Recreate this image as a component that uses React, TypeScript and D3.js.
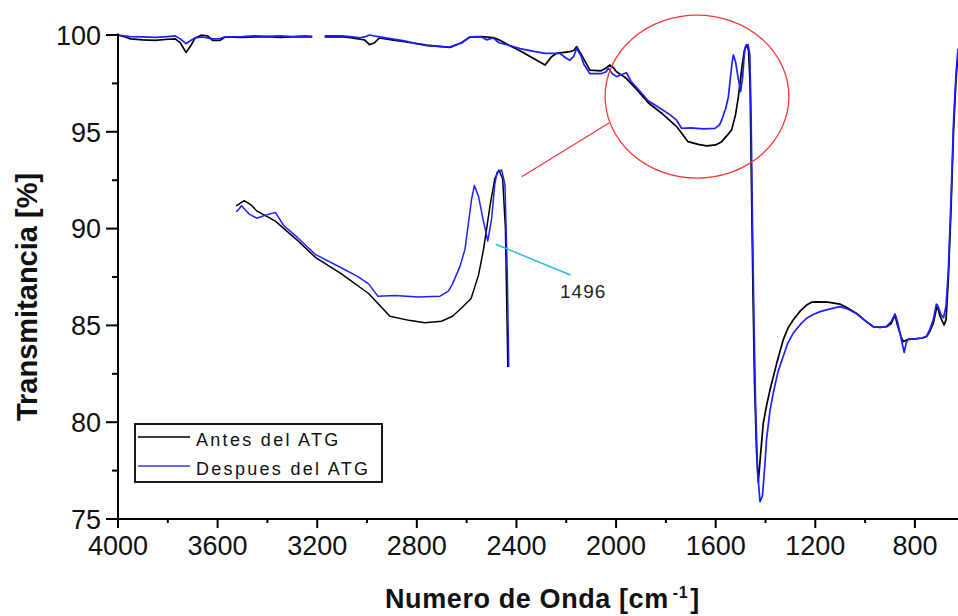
import React from 'react';
import * as d3 from 'd3';

const W = 958;
const H = 616;

const xDomain: [number, number] = [4000, 627];
const yDomain: [number, number] = [75, 100];
const xMajorTicks = [4000, 3600, 3200, 2800, 2400, 2000, 1600, 1200, 800];
const xMinorTicks = [3800, 3400, 3000, 2600, 2200, 1800, 1400, 1000];
const yMajorTicks = [75, 80, 85, 90, 95, 100];
const yMinorTicks = [77.5, 82.5, 87.5, 92.5, 97.5];

const seriesNames = ['Antes del ATG', 'Despues del ATG'];
const seriesColors = ['#000000', '#1f1fff'];

// [wavenumber, transmittance]
const antes: [number, number][] = [
  [4000, 100], [3970, 99.9], [3950, 99.8], [3900, 99.75], [3850, 99.72], [3800, 99.78],
  [3770, 99.8], [3750, 99.6], [3727, 99.1], [3710, 99.4], [3690, 99.85], [3664, 100],
  [3640, 99.95], [3620, 99.72], [3590, 99.72], [3570, 99.9], [3500, 99.88], [3450, 99.9],
  [3400, 99.92], [3350, 99.88], [3300, 99.9], [3250, 99.92], [3220, 99.9], [3210, NaN],
  [3170, 99.9], [3100, 99.92], [3060, 99.85], [3028, 99.78], [3010, 99.75], [2990, 99.5],
  [2970, 99.6], [2950, 99.85], [2900, 99.75], [2850, 99.65], [2800, 99.55], [2760, 99.48],
  [2700, 99.4], [2667, 99.36], [2620, 99.6], [2587, 99.9], [2540, 99.92], [2494, 99.87],
  [2470, 99.75], [2439, 99.53], [2386, 99.19], [2333, 98.8], [2285, 98.45], [2259, 98.88],
  [2239, 99.05], [2185, 99.14], [2170, 99.2], [2158, 99.4], [2140, 99.0], [2105, 98.19],
  [2060, 98.15], [2040, 98.3], [2025, 98.45], [2010, 98.3], [1998, 98.1], [1958, 97.75],
  [1911, 97.1], [1871, 96.5], [1817, 95.96], [1757, 95.27], [1711, 94.49], [1670, 94.35],
  [1636, 94.27], [1600, 94.32], [1576, 94.49], [1555, 94.8], [1536, 95.1], [1520, 95.9],
  [1509, 96.8], [1495, 98.3], [1485, 99.2], [1476, 99.5], [1468, 99.2], [1462, 97.5],
  [1456, 92], [1450, 86.5], [1444, 82], [1436, 78.5], [1429, 76.9], [1420, 78.3],
  [1409, 79.94], [1395, 80.9], [1382, 81.66], [1355, 83.04], [1329, 84.25], [1310, 84.85],
  [1289, 85.28], [1260, 85.75], [1235, 86.05], [1215, 86.2], [1195, 86.22], [1150, 86.2],
  [1101, 86.1], [1070, 85.9], [1034, 85.62], [1000, 85.25], [967, 84.93], [940, 84.9],
  [914, 84.93], [895, 85.1], [880, 85.54], [870, 85.0], [855, 84.4], [847, 84.16],
  [840, 84.2], [827, 84.28], [800, 84.3], [770, 84.35], [753, 84.42], [740, 84.7],
  [726, 85.11], [718, 85.6], [710, 86.05], [700, 85.5], [683, 85.02], [675, 85.3],
  [666, 87.35], [655, 91], [645, 95], [635, 97.7], [627, 99],
];

const despues: [number, number][] = [
  [4000, 100], [3970, 99.95], [3950, 99.92], [3900, 99.9], [3850, 99.88], [3800, 99.92],
  [3770, 99.95], [3750, 99.8], [3727, 99.55], [3710, 99.7], [3690, 99.85], [3664, 99.9],
  [3640, 99.85], [3620, 99.8], [3590, 99.82], [3570, 99.9], [3500, 99.92], [3450, 99.95],
  [3400, 99.93], [3350, 99.95], [3300, 99.92], [3250, 99.95], [3220, 99.93], [3210, NaN],
  [3170, 99.95], [3100, 99.95], [3060, 99.9], [3028, 99.85], [3010, 99.9], [2990, 100],
  [2970, 99.95], [2950, 99.9], [2900, 99.8], [2850, 99.7], [2800, 99.55], [2760, 99.45],
  [2700, 99.4], [2667, 99.38], [2620, 99.6], [2587, 99.9], [2540, 99.9], [2520, 99.75],
  [2494, 99.85], [2470, 99.6], [2439, 99.5], [2386, 99.3], [2330, 99.15], [2285, 99.05],
  [2239, 99.05], [2226, 99.05], [2200, 98.8], [2185, 98.7], [2170, 98.9], [2158, 99.31],
  [2140, 98.9], [2130, 98.5], [2105, 98.0], [2060, 98.0], [2040, 98.1], [2031, 98.28],
  [2015, 98.0], [1998, 97.85], [1980, 97.95], [1958, 98.05], [1940, 97.6], [1911, 97.2],
  [1871, 96.6], [1817, 96.16], [1780, 95.85], [1757, 95.6], [1737, 95.18], [1700, 95.2],
  [1650, 95.15], [1603, 95.18], [1585, 95.35], [1576, 95.6], [1560, 96.2], [1549, 96.8],
  [1535, 98.5], [1529, 98.97], [1520, 98.6], [1510, 97.8], [1500, 97.07], [1492, 97.8],
  [1485, 99.0], [1480, 99.43], [1470, 99.5], [1463, 99.0], [1458, 96], [1452, 90],
  [1446, 85], [1440, 81], [1432, 77.5], [1422, 75.9], [1412, 76.2], [1401, 78.05],
  [1396, 79.1], [1382, 80.6], [1369, 81.49], [1350, 82.6], [1329, 83.39], [1310, 84.1],
  [1289, 84.59], [1260, 85.05], [1235, 85.37], [1210, 85.55], [1181, 85.71], [1140, 85.85],
  [1101, 85.97], [1070, 85.85], [1034, 85.6], [1000, 85.25], [967, 84.93], [940, 84.9],
  [914, 84.95], [895, 85.2], [880, 85.6], [870, 85.2], [855, 84.3], [843, 83.6],
  [835, 84.1], [827, 84.28], [800, 84.3], [770, 84.35], [753, 84.45], [740, 84.8],
  [726, 85.3], [714, 86.1], [705, 85.9], [695, 85.54], [685, 85.4], [675, 86],
  [666, 87.8], [655, 91.5], [645, 95.5], [635, 98], [627, 99.3],
];

// inset (magnified view of the circled region), in data units
const insetWnDomain: [number, number] = [2045, 1478];
const insetTDomain: [number, number] = [98.2, 94.27];

// annotations, in data units
const circleCenter: [number, number] = [1675, 96.82];
const circleRadii: [number, number] = [369, 4.21];
const redLine: [number, number][] = [[2379, 92.68], [2027, 95.47]];
const cyanLine: [number, number][] = [[2483, 89.19], [2183, 87.6]];
const peakLabel = { text: '1496', wn: 2225, t: 86.4 };

const FONT = "'Liberation Sans', Arial, Helvetica, sans-serif";

export default function App() {
  const x = d3.scaleLinear().domain(xDomain).range([118, 958]);
  const y = d3.scaleLinear().domain(yDomain).range([519, 35]);
  const xi = d3.scaleLinear().domain(insetWnDomain).range([235, 498]);
  const yi = d3.scaleLinear().domain(insetTDomain).range([208, 322.7]);

  const mainLine = d3
    .line<[number, number]>()
    .defined((d) => !isNaN(d[1]))
    .x((d) => x(d[0]))
    .y((d) => y(d[1]));
  const insetLine = d3
    .line<[number, number]>()
    .defined((d) => !isNaN(d[1]))
    .x((d) => xi(d[0]))
    .y((d) => yi(d[1]));

  const series = [antes, despues];
  const x0 = x(xDomain[0]);
  const yBase = y(yDomain[0]);

  const cx = x(circleCenter[0]);
  const cy = y(circleCenter[1]);
  const rx = Math.abs(x(circleCenter[0] - circleRadii[0]) - cx);
  const ry = Math.abs(y(circleCenter[1] - circleRadii[1]) - cy);

  return (
    <svg
      width={W}
      height={H}
      style={{ position: 'absolute', left: 0, top: 0, background: '#fff' }}
      fontFamily={FONT}
    >
      <defs>
        <clipPath id="plotClip">
          <rect x={118} y={20} width={840} height={510} />
        </clipPath>
        <clipPath id="insetClip">
          <rect x={236} y={150} width={280} height={217} />
        </clipPath>
      </defs>
      <rect x={0} y={0} width={W} height={H} fill="#fff" />

      {/* main spectra: draw black first, blue above */}
      <g clipPath="url(#plotClip)" fill="none" strokeLinejoin="round">
        {series.map((s, i) => (
          <path key={i} d={mainLine(s) || ''} stroke={seriesColors[i]} strokeWidth={1.7} />
        ))}
      </g>

      {/* inset */}
      <g clipPath="url(#insetClip)" fill="none" strokeLinejoin="round">
        {series.map((s, i) => (
          <path key={i} d={insetLine(s) || ''} stroke={seriesColors[i]} strokeWidth={1.5} />
        ))}
      </g>

      {/* annotations */}
      <ellipse cx={cx} cy={cy} rx={rx} ry={ry} fill="none" stroke="#f23a3a" strokeWidth={1.3} />
      <line
        x1={x(redLine[0][0])}
        y1={y(redLine[0][1])}
        x2={x(redLine[1][0])}
        y2={y(redLine[1][1])}
        stroke="#f23a3a"
        strokeWidth={1.3}
      />
      <line
        x1={x(cyanLine[0][0])}
        y1={y(cyanLine[0][1])}
        x2={x(cyanLine[1][0])}
        y2={y(cyanLine[1][1])}
        stroke="#2db8ea"
        strokeWidth={1.5}
      />
      <text x={x(peakLabel.wn)} y={y(peakLabel.t)} fontSize={19} letterSpacing={1} fill="#222">
        {peakLabel.text}
      </text>

      {/* axes */}
      <line x1={x0} y1={y(100) - 1.5} x2={x0} y2={yBase} stroke="#000" strokeWidth={2} />
      <line x1={x0 - 1} y1={yBase} x2={958} y2={yBase} stroke="#000" strokeWidth={2} />
      {yMajorTicks.map((t) => (
        <g key={'ym' + t}>
          <line x1={x0 - 12} x2={x0} y1={y(t)} y2={y(t)} stroke="#000" strokeWidth={2} />
          <text x={101} y={y(t)} dy="0.36em" textAnchor="end" fontSize={27} fill="#111">
            {t}
          </text>
        </g>
      ))}
      {yMinorTicks.map((t) => (
        <line key={'yn' + t} x1={x0 - 6} x2={x0} y1={y(t)} y2={y(t)} stroke="#000" strokeWidth={2} />
      ))}
      {xMajorTicks.map((t) => (
        <g key={'xm' + t}>
          <line x1={x(t)} x2={x(t)} y1={yBase} y2={yBase + 9} stroke="#000" strokeWidth={2} />
          <text x={x(t)} y={555} textAnchor="middle" fontSize={27} fill="#111">
            {t}
          </text>
        </g>
      ))}
      {xMinorTicks.map((t) => (
        <line key={'xn' + t} x1={x(t)} x2={x(t)} y1={yBase} y2={yBase + 4} stroke="#000" strokeWidth={2} />
      ))}

      {/* axis titles */}
      <text
        transform="translate(36.5,297) rotate(-90)"
        textAnchor="middle"
        fontSize={29}
        fontWeight="bold"
        fill="#111"
      >
        Transmitancia [%]
      </text>
      <text x={385} y={608} fontSize={27} fontWeight="bold" letterSpacing={0.6} fill="#111">
        <tspan>Numero de Onda [cm</tspan>
        <tspan dx={4} dy={-10} fontSize={16}>-1</tspan>
        <tspan dx={2} dy={10}>]</tspan>
      </text>

      {/* legend */}
      <rect x={135} y={424} width={247} height={58} fill="#fff" stroke="#000" strokeWidth={1.8} />
      {seriesNames.map((n, i) => (
        <g key={n}>
          <line
            x1={138}
            x2={190}
            y1={437 + i * 29}
            y2={437 + i * 29}
            stroke={i === 0 ? '#000' : '#3a3aff'}
            strokeWidth={1.6}
          />
          <text x={196} y={445.5 + i * 29} fontSize={18} letterSpacing={2.3} fill="#111">
            {n}
          </text>
        </g>
      ))}
    </svg>
  );
}
